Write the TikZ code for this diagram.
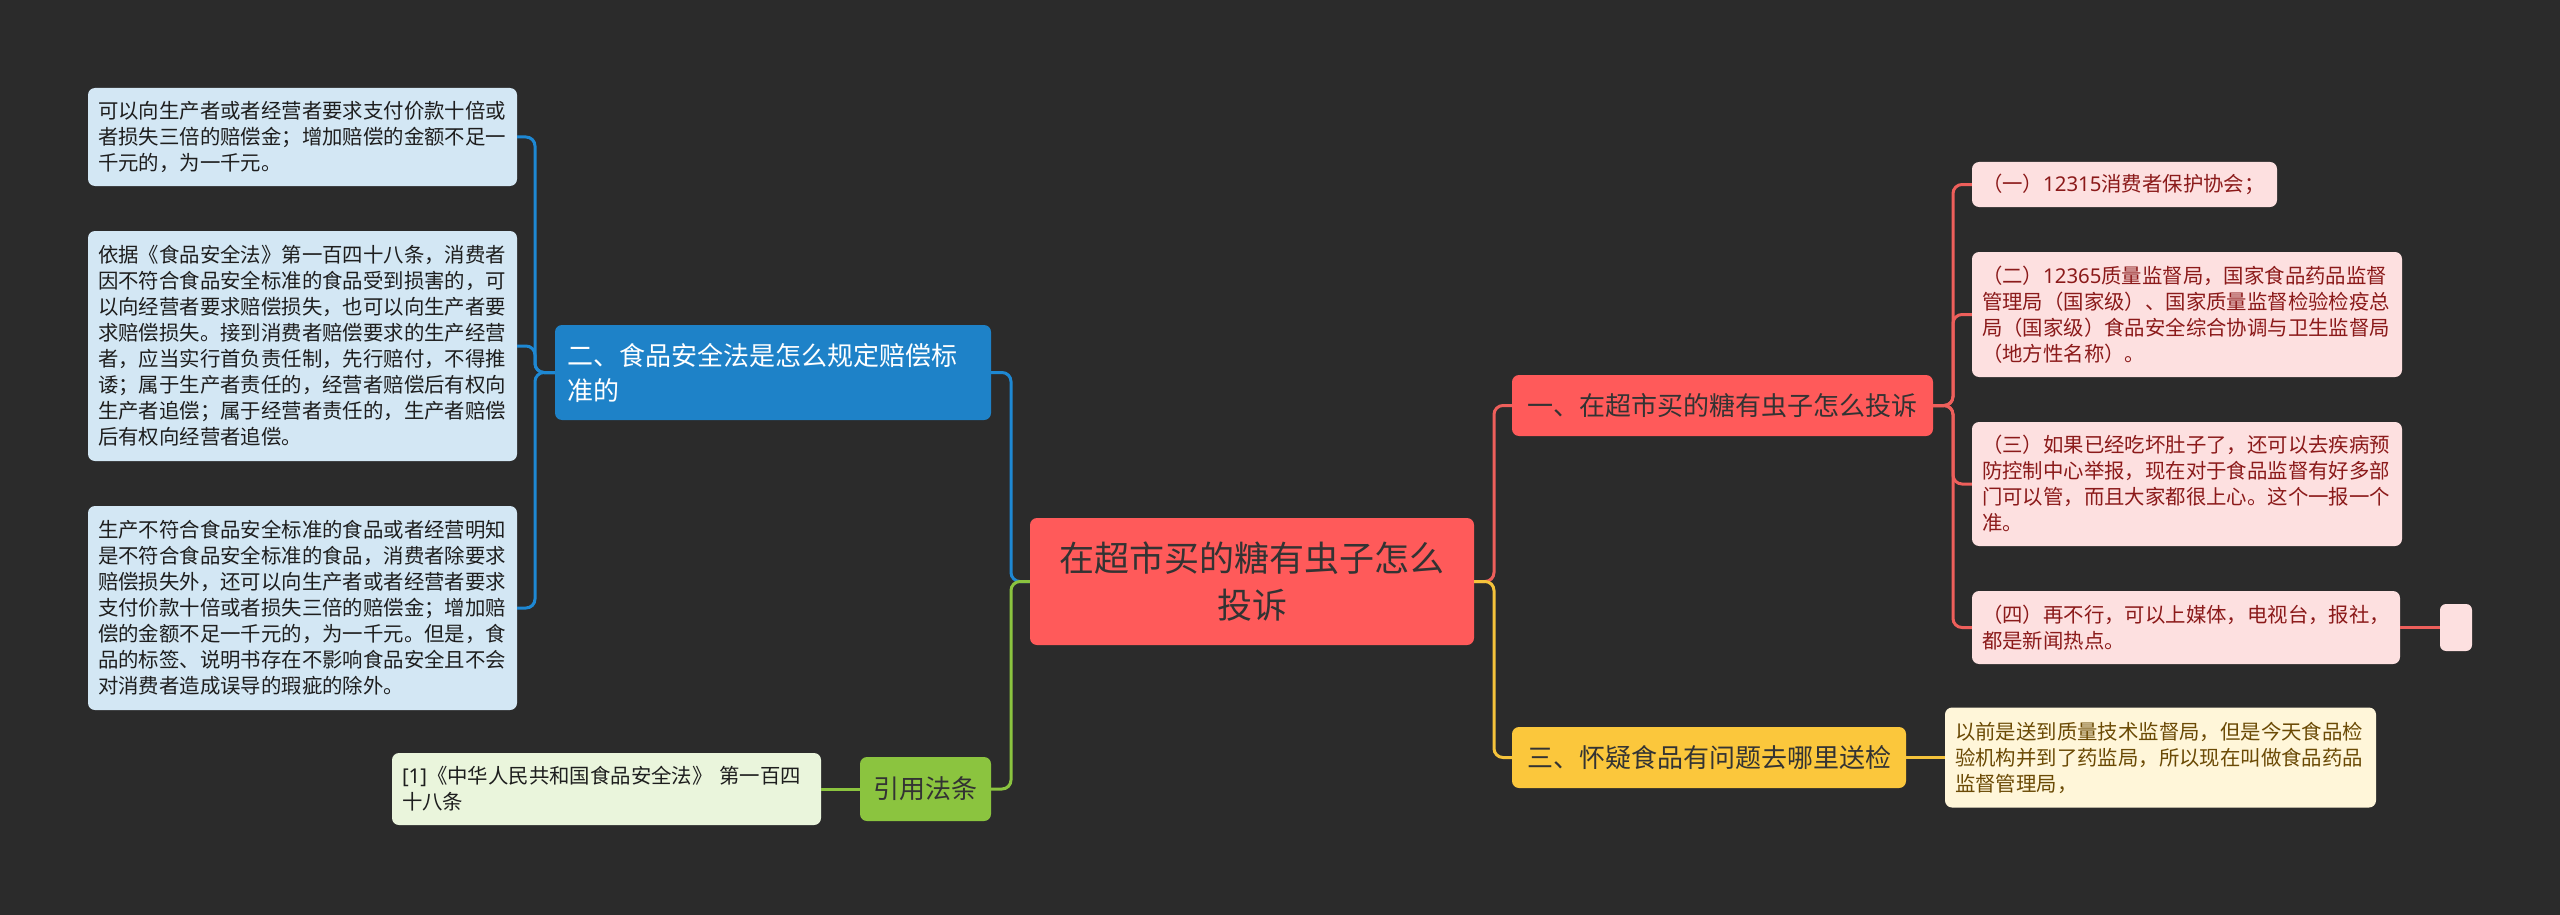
\documentclass[tikz,border=0pt]{standalone}
\usepackage{fontspec}
\setmainfont{Noto Sans CJK SC}
\newfontfamily\latfont{Noto Sans}
\newcommand{\myfs}[2]{\fontsize{#1}{#2}\selectfont}
\definecolor{bgc}{HTML}{2B2B2B}
\definecolor{redc}{HTML}{FF5A5A}
\definecolor{redln}{HTML}{EE5F5B}
\definecolor{rleafc}{HTML}{FDE0E0}
\definecolor{rtxt}{HTML}{8B1A1A}
\definecolor{bluec}{HTML}{1E82C8}
\definecolor{blueln}{HTML}{1E88D3}
\definecolor{bleafc}{HTML}{D3E7F4}
\definecolor{greenc}{HTML}{8BC43F}
\definecolor{greenln}{HTML}{8BC43F}
\definecolor{gleafc}{HTML}{EAF5DC}
\definecolor{yellowc}{HTML}{FBC73C}
\definecolor{yellowln}{HTML}{F5C33B}
\definecolor{yleafc}{HTML}{FFF6D9}
\definecolor{ytxt}{HTML}{6B4A05}
\definecolor{darktxt}{HTML}{333333}
\definecolor{leaftxt}{HTML}{1E1E1E}
\tikzset{
  box/.style={rounded corners=7pt, inner xsep=10pt, inner ysep=0pt, anchor=center, align=left},
  centerbox/.style={box, fill=redc, text=darktxt, align=center, font=\myfs{35}{47}},
  mainbox/.style={box, inner xsep=12pt, text=darktxt, font=\myfs{26}{35}},
  leafbox/.style={box, font=\myfs{20.4}{26}},
  bleaf/.style={leafbox, fill=bleafc, text=leaftxt},
  rleaf/.style={leafbox, fill=rleafc, text=rtxt},
  gleaf/.style={leafbox, fill=gleafc, text=leaftxt},
  yleaf/.style={leafbox, fill=yleafc, text=ytxt},
  conn/.style={line width=3pt, rounded corners=9pt}
}
\begin{document}
\begin{tikzpicture}[x=1pt,y=-1pt]
\fill[bgc] (0,0) rectangle (2560,915);
\useasboundingbox (0,0) rectangle (2560,915);

% center
\node[centerbox, minimum width=444pt, minimum height=127pt] (C) at (1252,581.5) {在超市买的糖有虫子怎么\\投诉};

% left main branches
\node[mainbox, fill=bluec, text=white, text width=412pt, minimum height=95pt] (B) at (773,372.5) {二、食品安全法是怎么规定赔偿标\\准的};
\node[mainbox, fill=greenc, align=center, minimum width=131pt, minimum height=64pt] (G) at (925.5,789) {引用法条};

% right main branches
\node[mainbox, fill=redc, align=center, minimum width=421pt, minimum height=61pt] (R) at (1722.5,405.5) {一、在超市买的糖有虫子怎么投诉};
\node[mainbox, fill=yellowc, align=center, minimum width=394pt, minimum height=61pt] (Y) at (1709,757.5) {三、怀疑食品有问题去哪里送检};

% blue leaves
\node[bleaf, text width=409pt, minimum height=98pt] (L1) at (302.5,137) {可以向生产者或者经营者要求支付价款十倍或\\者损失三倍的赔偿金；增加赔偿的金额不足一\\千元的，为一千元。};
\node[bleaf, text width=409pt, minimum height=230pt] (L2) at (302.5,346) {依据《食品安全法》第一百四十八条，消费者\\因不符合食品安全标准的食品受到损害的，可\\以向经营者要求赔偿损失，也可以向生产者要\\求赔偿损失。接到消费者赔偿要求的生产经营\\者，应当实行首负责任制，先行赔付，不得推\\诿；属于生产者责任的，经营者赔偿后有权向\\生产者追偿；属于经营者责任的，生产者赔偿\\后有权向经营者追偿。};
\node[bleaf, text width=409pt, minimum height=204pt] (L3) at (302.5,608) {生产不符合食品安全标准的食品或者经营明知\\是不符合食品安全标准的食品，消费者除要求\\赔偿损失外，还可以向生产者或者经营者要求\\支付价款十倍或者损失三倍的赔偿金；增加赔\\偿的金额不足一千元的，为一千元。但是，食\\品的标签、说明书存在不影响食品安全且不会\\对消费者造成误导的瑕疵的除外。};

% green leaf
\node[gleaf, text width=409pt, minimum height=72pt] (GL) at (606.5,789) {{\latfont [1]}《中华人民共和国食品安全法》~第一百四\\十八条};

% red leaves
\node[rleaf, text width=285pt, minimum height=45pt] (R1) at (2124.5,184.5) {（一）{\latfont 12315}消费者保护协会；};
\node[rleaf, text width=410pt, minimum height=125pt] (R2) at (2187,314.5) {（二）{\latfont 12365}质量监督局，国家食品药品监督\\管理局（国家级）、国家质量监督检验检疫总\\局（国家级）食品安全综合协调与卫生监督局\\（地方性名称）。};
\node[rleaf, text width=410pt, minimum height=124pt] (R3) at (2187,484) {（三）如果已经吃坏肚子了，还可以去疾病预\\防控制中心举报，现在对于食品监督有好多部\\门可以管，而且大家都很上心。这个一报一个\\准。};
\node[rleaf, text width=408pt, minimum height=73pt] (R4) at (2186,627.5) {（四）再不行，可以上媒体，电视台，报社，\\都是新闻热点。};
\node[box, fill=rleafc, inner sep=0pt, minimum width=32pt, minimum height=47pt, rounded corners=6pt] (E) at (2456,627.5) {};

% yellow leaf
\node[yleaf, text width=411pt, minimum height=100pt] (YL) at (2160.5,757.5) {以前是送到质量技术监督局，但是今天食品检\\验机构并到了药监局，所以现在叫做食品药品\\监督管理局，};

% junction coordinates
\coordinate (cl) at (1011,581.5);
\coordinate (cr) at (1494,581.5);
\coordinate (bj) at (535,372.5);
\coordinate (rj) at (1953,405.5);

% connectors from center
\draw[conn, blueln] (C.west) -- (cl) |- (B.east);
\draw[conn, redln] (C.east) -- (cr) |- (R.west);
\draw[conn, yellowln] (C.east) -- (cr) |- (Y.west);
\draw[conn, greenln] (C.west) -- (cl) |- (G.east);

% blue branch
\draw[conn, blueln] (B.west) -- (bj) |- (L1.east);
\draw[conn, blueln] (B.west) -- (bj) |- (L2.east);
\draw[conn, blueln] (B.west) -- (bj) |- (L3.east);

% red branch
\draw[conn, redln] (R.east) -- (rj) |- (R1.west);
\draw[conn, redln] (R.east) -- (rj) |- (R2.west);
\draw[conn, redln] (R.east) -- (rj) |- (R3.west);
\draw[conn, redln] (R.east) -- (rj) |- (R4.west);
\draw[conn, redln] (R4.east) -- (E.west);

% green and yellow
\draw[conn, greenln] (G.west) -- (GL.east);
\draw[conn, yellowln] (Y.east) -- (YL.west);
\end{tikzpicture}
\end{document}
